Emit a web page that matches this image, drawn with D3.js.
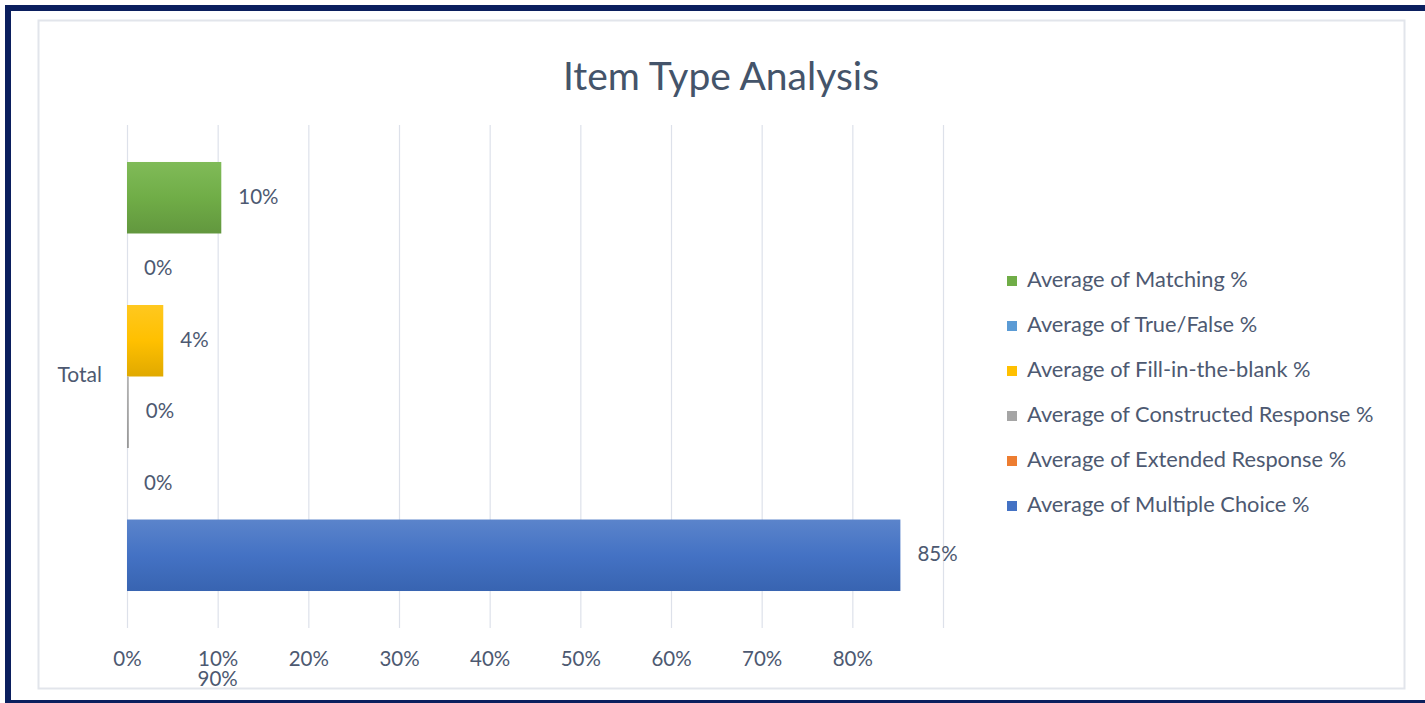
<!DOCTYPE html>
<html>
<head>
<meta charset="utf-8">
<script src="https://cdn.jsdelivr.net/npm/d3@7"></script>
<style>
  html, body { margin: 0; padding: 0; background: #ffffff; }
  svg { display: block; }
  text { font-family: Lato, "Open Sans", sans-serif; }
</style>
</head>
<body>
<svg id="chart" width="1425" height="703"></svg>
<script>
// ---- data ----
const categories = ["Total"];
const seriesNames = [
  "Average of Matching %",
  "Average of True/False %",
  "Average of Fill-in-the-blank %",
  "Average of Constructed Response %",
  "Average of Extended Response %",
  "Average of Multiple Choice %"
];
const seriesValues = [10.4, 0, 4.0, 0.2, 0, 85.3];
const dataLabels = ["10%", "0%", "4%", "0%", "0%", "85%"];
const seriesColors = ["#70ad47", "#5b9bd5", "#ffc000", "#a5a5a5", "#ed7d31", "#4472c4"];
const xTickValues = [0, 10, 20, 30, 40, 50, 60, 70, 80, 90];
const xTickLabels = ["0%", "10%", "20%", "30%", "40%", "50%", "60%", "70%", "80%", "90%"];
const titleText = "Item Type Analysis";

// ---- layout ----
const W = 1425, H = 703;
const plot = { left: 127, right: 943, top: 125, bottom: 628 };
const textColor = "#4d5971";

const svg = d3.select("#chart");

// outer navy frame
const navy = "#0b1f5e";
svg.append("rect").attr("x", 5).attr("y", 5).attr("width", W).attr("height", 6).attr("fill", navy);
svg.append("rect").attr("x", 5).attr("y", 5).attr("width", 6).attr("height", H).attr("fill", navy);
svg.append("rect").attr("x", 5).attr("y", 700).attr("width", W).attr("height", 4).attr("fill", navy);

// chart area box
svg.append("rect")
  .attr("x", 38.5).attr("y", 20.5)
  .attr("width", 1366).attr("height", 668)
  .attr("fill", "#ffffff")
  .attr("stroke", "#e2e5eb").attr("stroke-width", 2);

// gradients
const defs = svg.append("defs");
seriesColors.forEach((c, i) => {
  const g = defs.append("linearGradient")
    .attr("id", "grad" + i).attr("x1", 0).attr("y1", 0).attr("x2", 0).attr("y2", 1);
  const base = d3.hsl(c);
  const light = d3.hsl(c); light.l = Math.min(1, light.l + 0.06);
  const dark = d3.hsl(c); dark.l = Math.max(0, dark.l - 0.06);
  g.append("stop").attr("offset", "0%").attr("stop-color", light.formatHex());
  g.append("stop").attr("offset", "50%").attr("stop-color", base.formatHex());
  g.append("stop").attr("offset", "100%").attr("stop-color", dark.formatHex());
});

// scales
const x = d3.scaleLinear().domain([0, 90]).range([plot.left, plot.right]);
const y0 = d3.scaleBand().domain(categories).range([plot.top, plot.bottom])
  .paddingInner(0).paddingOuter(0.0862);
const y1 = d3.scaleBand().domain(seriesNames).range([0, y0.bandwidth()]).padding(0);

// title
svg.append("text")
  .attr("x", 721).attr("y", 90)
  .attr("text-anchor", "middle")
  .attr("font-size", 39)
  .attr("fill", "#44546a")
  .text(titleText);

// gridlines
svg.append("g").selectAll("line")
  .data(xTickValues).join("line")
  .attr("x1", d => x(d) + 0.5).attr("x2", d => x(d) + 0.5)
  .attr("y1", plot.top).attr("y2", plot.bottom)
  .attr("stroke", "#dde1ea").attr("stroke-width", 1.2);

// x axis (labels only)
const xAxis = d3.axisBottom(x)
  .tickValues(xTickValues)
  .tickSize(0)
  .tickPadding(0)
  .tickFormat((d, i) => xTickLabels[i]);
const gx = svg.append("g").attr("transform", `translate(0, ${plot.bottom})`).call(xAxis);
gx.select(".domain").remove();
gx.selectAll("text")
  .attr("font-size", 20.5)
  .attr("fill", textColor)
  .attr("dy", null)
  .attr("y", 38);
// the last label wraps beneath the second one, as in the original
gx.selectAll(".tick").filter(d => d === 90)
  .attr("transform", `translate(${x(10)},0)`)
  .select("text").attr("y", 58);

// category label
svg.append("text")
  .attr("x", 102).attr("y", y0("Total") + y0.bandwidth() / 2)
  .attr("text-anchor", "end").attr("dominant-baseline", "middle")
  .attr("font-size", 21)
  .attr("fill", textColor)
  .text(categories[0]);

// bars
const rows = seriesNames.map((s, i) => ({ name: s, value: seriesValues[i], label: dataLabels[i], idx: i }));
const gBars = svg.append("g").attr("transform", `translate(0, ${y0("Total")})`);
gBars.selectAll("rect")
  .data(rows).join("rect")
  .attr("x", x(0))
  .attr("y", d => y1(d.name))
  .attr("width", d => x(d.value) - x(0))
  .attr("height", y1.bandwidth())
  .attr("fill", d => `url(#grad${d.idx})`);

// data labels
gBars.selectAll("text")
  .data(rows).join("text")
  .attr("x", d => x(d.value) + 17)
  .attr("y", d => y1(d.name) + y1.bandwidth() / 2 + 1)
  .attr("dominant-baseline", "middle")
  .attr("font-size", 20.5)
  .attr("fill", textColor)
  .text(d => d.label);

// legend
const legend = svg.append("g").attr("transform", "translate(1007, 280)");
const li = legend.selectAll("g").data(rows).join("g")
  .attr("transform", (d, i) => `translate(0, ${i * 45})`);
li.append("rect")
  .attr("x", 0).attr("y", -4).attr("width", 10).attr("height", 10)
  .attr("fill", d => seriesColors[d.idx]);
li.append("text")
  .attr("x", 20).attr("y", 1)
  .attr("dominant-baseline", "middle")
  .attr("font-size", 21.8)
  .attr("fill", textColor)
  .text(d => d.name);
</script>
</body>
</html>
